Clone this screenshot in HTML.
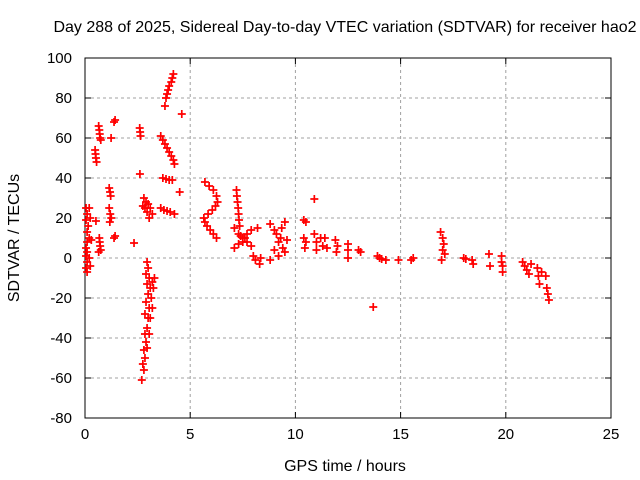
<!DOCTYPE html>
<html><head><meta charset="utf-8"><style>
body{margin:0;background:#fff}
svg{display:block;font-family:"Liberation Sans",sans-serif}
</style></head><body>
<svg id="chart" width="640" height="480">
<text x="345" y="32" text-anchor="middle" font-size="16">Day 288 of 2025, Sidereal Day-to-day VTEC variation (SDTVAR) for receiver hao2</text>
<text x="345" y="471" text-anchor="middle" font-size="16">GPS time / hours</text>
<text transform="translate(19,238) rotate(-90)" text-anchor="middle" font-size="16">SDTVAR / TECUs</text>
<g id="grid"></g><g id="axes"></g><g id="marks"></g>
</svg>
<script>
const xTicks=[0,5,10,15,20,25];
const yTicks=[-80,-60,-40,-20,0,20,40,60,80,100];
const hours=[
0.05,0.1,0.05,0.15,0.1,0.2,0.1,0.05,0.1,0.05,0.1,0.05,0.1,0.25,0.2,0.25,0.3,0.2,
0.65,0.68,0.7,0.72,0.75,
0.48,0.5,0.52,0.55,
1.43,1.38,1.24,
1.15,1.19,1.22,1.15,1.2,1.25,1.18,1.43,1.38,0.68,0.7,0.72,0.75,0.65,0.52,
2.6,2.62,2.64,2.61,2.33,
2.8,2.9,2.85,2.95,3.0,3.1,3.2,3.05,2.75,
2.95,3.0,2.9,3.05,2.95,3.1,3.0,3.2,3.25,3.3,3.15,2.9,3.05,2.85,3.0,2.95,2.85,2.9,2.8,2.85,2.75,2.8,2.7,3.2,3.1,3.05,2.95,
3.8,3.85,3.95,4.0,4.1,4.2,4.15,3.9,
4.6,
3.6,3.7,3.8,3.9,4.0,4.1,4.2,4.25,
3.7,3.85,4.0,4.15,
4.5,
3.6,3.75,3.9,4.05,4.25,
5.7,5.9,6.1,6.25,6.3,6.2,6.05,5.85,5.65,5.7,5.8,5.95,6.1,6.25,
7.2,7.22,7.25,7.28,7.3,7.32,7.35,
7.1,7.3,7.5,7.7,7.9,7.1,7.3,7.7,7.9,7.5,7.6,7.4,
8.2,8.0,8.1,8.3,8.35,
8.8,9.0,9.1,9.3,9.2,9.4,9.0,9.5,9.35,8.8,9.2,9.5,9.6,
10.9,
10.4,10.5,
10.4,10.5,10.45,10.9,11.0,11.2,11.4,11.3,11.5,11.0,11.9,12.0,11.95,
12.5,12.5,12.5,
13.0,13.1,
13.9,14.0,14.1,14.3,
14.9,15.5,15.6,
13.7,
16.9,17.0,17.05,17.0,17.1,16.95,
18.0,18.1,18.4,18.45,19.2,19.25,19.8,19.8,19.85,19.85,
20.8,20.9,21.0,21.1,21.5,21.55,21.6,21.9,21.95,22.0,22.05,21.2,21.7];
const tecu=[
25,22,19,16,13,10,8,5,3,1,-2,-5,-7,20,0,-4,9,25,
66,64,62,60,59,
54,52,50,48,
69,68,60,
35,33,31,25,22,20,18,11,10,10,8,6,4,3,18.5,
65,63,61,42,7.5,
30,28,25,23,27,25,22,20,26,
-2,-5,-8,-10,-13,-15,-18,-12,-15,-10,-20,-22,-25,-28,-30,-35,-38,-42,-46,-50,-53,-56,-61,-25,-30,-38,-45,
76,80,84,86,88,92,90,82,
72,
61,59,57,55,53,51,49,47,
40,39.5,39,39,
33,
25,24,23.5,23,22,
38,36,34,31,28,26,24,22,20,18,16,14,12,10,
34,31,28,25,22,19,16,
15,12,10,8,6,5,7,12,14,8,10,11,
15,1,-1,-3,0,
17,14,12,10,8,5,4,18,15,-1,1,3,9,
29.5,
19,18,
10,8,5,12,8,10,10,6,5,4,9,6,3,
7,4,0,
4,3,
1,0,-0.5,-1,
-1,-1,0,
-24.5,
13,10,7,4,2,-1,
0,-0.5,-1,-3,2,-4,1,-2,-4,-7,
-2,-4,-6,-8,-5,-9,-13,-9,-15,-18,-21,-3,-7];
const L=85,R=611,T=58,B=418;
const sx=v=>L+(v-0)/25*(R-L);
const sy=v=>B-(v+80)/180*(B-T);
const NS="http://www.w3.org/2000/svg";
function mk(tag,attrs,parent){const e=document.createElementNS(NS,tag);for(const k in attrs)e.setAttribute(k,attrs[k]);parent.appendChild(e);return e;}
const grid=document.getElementById('grid'),axes=document.getElementById('axes'),marks=document.getElementById('marks');
xTicks.forEach(t=>{const x=sx(t);
 if(t>0&&t<25){const g=mk('line',{x1:x,x2:x,y1:T,y2:B,stroke:'#a0a0a0','stroke-dasharray':'3,3'},grid);
 
 }
 mk('line',{x1:x,x2:x,y1:B,y2:B-6,stroke:'#000'},axes);mk('line',{x1:x,x2:x,y1:T,y2:T+6,stroke:'#000'},axes);
 const tx=mk('text',{x:x,y:B+21,'text-anchor':'middle','font-size':'15'},axes);tx.textContent=t;
 
 });
yTicks.forEach(t=>{const y=sy(t);
 if(t>-80&&t<100){const g=mk('line',{x1:L,x2:R,y1:y,y2:y,stroke:'#a0a0a0','stroke-dasharray':'3,3'},grid);
 
 }
 mk('line',{x1:L,x2:L+6,y1:y,y2:y,stroke:'#000'},axes);mk('line',{x1:R,x2:R-6,y1:y,y2:y,stroke:'#000'},axes);
 const tx=mk('text',{x:L-13,y:y+5,'text-anchor':'end','font-size':'15'},axes);tx.textContent=t;
 
 });
const fr=mk('rect',{x:L,y:T,width:R-L,height:B-T,fill:'none',stroke:'#000'},axes);


hours.forEach((h,i)=>{const x=sx(h),y=sy(tecu[i]);
 const p=mk('path',{d:`M${x-4},${y}H${x+4}M${x},${y-4}V${y+4}`,stroke:'#f00','stroke-width':'1.7',fill:'none'},marks);
 
 });
</script>
</body></html>
